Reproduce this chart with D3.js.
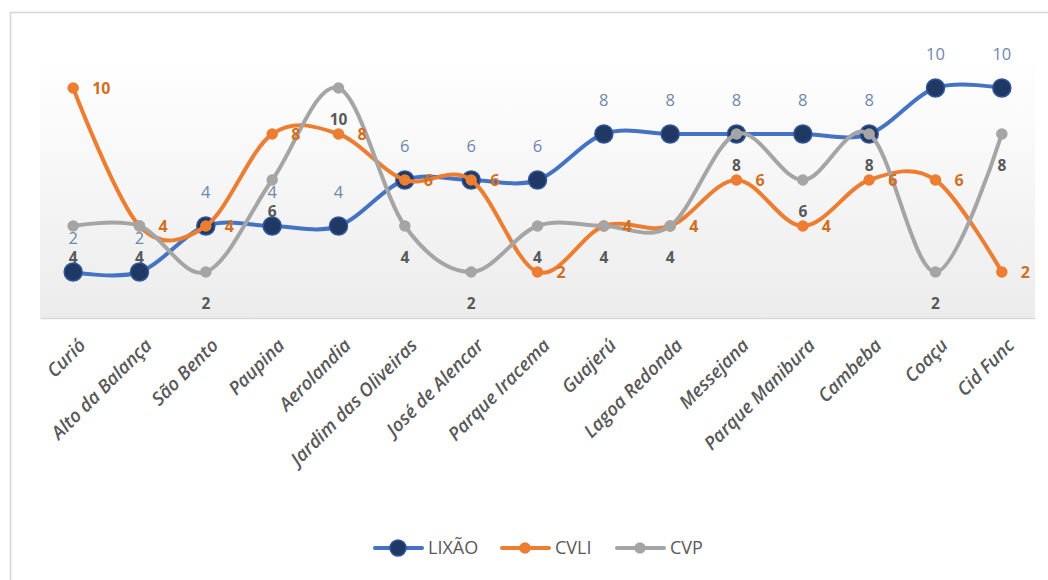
<!DOCTYPE html>
<html>
<head>
<meta charset="utf-8">
<script src="https://cdn.jsdelivr.net/npm/d3@7/dist/d3.min.js"></script>
<style>
  html, body { margin: 0; padding: 0; background: #ffffff; }
  svg { display: block; }
</style>
</head>
<body>
<svg id="chart" width="1048" height="580"></svg>
<script>
// Bairros (eixo X)
const categories = ["Curió", "Alto da Balança", "São Bento", "Paupina", "Aerolandia",
  "Jardim das Oliveiras", "José de Alencar", "Parque Iracema", "Guajerú", "Lagoa Redonda",
  "Messejana", "Parque Manibura", "Cambeba", "Coaçu", "Cid Func"];

// Séries
const lixao = [2, 2, 4, 4, 4, 6, 6, 6, 8, 8, 8, 8, 8, 10, 10];
const cvli  = [10, 4, 4, 8, 8, 6, 6, 2, 4, 4, 6, 4, 6, 6, 2];
const cvp   = [4, 4, 2, 6, 10, 4, 2, 4, 4, 4, 8, 6, 8, 2, 8];

const seriesNames = ["LIXÃO", "CVLI", "CVP"];

const W = 1048, H = 580;
const plot = { left: 40, right: 1035, top: 42, bottom: 318 };

const svg = d3.select("#chart");

// Gradient for plot area background
const defs = svg.append("defs");
const grad = defs.append("linearGradient").attr("id", "plotBg")
  .attr("x1", 0).attr("y1", 0).attr("x2", 0).attr("y2", 1);
grad.append("stop").attr("offset", "0%").attr("stop-color", "#ffffff");
grad.append("stop").attr("offset", "100%").attr("stop-color", "#ececec");

// Chart frame
svg.append("path")
  .attr("d", `M10.5,${H} V12.5 H${W}`)
  .attr("fill", "none").attr("stroke", "#d6d6d6").attr("stroke-width", 1.5);

svg.append("rect")
  .attr("x", plot.left).attr("y", 60)
  .attr("width", plot.right - plot.left).attr("height", plot.bottom - 60)
  .attr("fill", "url(#plotBg)");

const x = d3.scaleBand().domain(categories).range([plot.left, plot.right]);
const cx = d => x(d) + x.bandwidth() / 2;
const y = d3.scaleLinear().domain([0, 12]).range([plot.bottom, plot.top]);

// Category axis
const xAxis = d3.axisBottom(x).tickSize(0).tickPadding(0);
const gx = svg.append("g").attr("transform", `translate(0,${plot.bottom})`).call(xAxis);
gx.select(".domain").attr("stroke", "#d9d9d9").attr("stroke-width", 1.5);
gx.selectAll(".tick text")
  .attr("transform", "translate(9,24) rotate(-45)")
  .attr("text-anchor", "end")
  .attr("dy", "0.35em")
  .attr("fill", "#595959")
  .style("font-family", "'Open Sans', sans-serif")
  .style("font-size", "18.5px")
  .style("font-weight", "600")
  .style("font-style", "italic");

const line = d3.line()
  .x((d, i) => cx(categories[i]))
  .y(d => y(d))
  .curve(d3.curveCardinal.tension(0));

const styles = [
  { data: lixao, stroke: "#4472c4", fill: "#1f3864", r: 9, mstroke: "#2f5597" },
  { data: cvli,  stroke: "#ed7d31", fill: "#ed7d31", r: 5, mstroke: "#ed7d31" },
  { data: cvp,   stroke: "#a5a5a5", fill: "#a5a5a5", r: 5, mstroke: "#a5a5a5" }
];

styles.forEach(s => {
  svg.append("path").datum(s.data)
    .attr("d", line)
    .attr("fill", "none")
    .attr("stroke", s.stroke)
    .attr("stroke-width", 4)
    .attr("stroke-linecap", "round");
  svg.append("g").selectAll("circle").data(s.data).join("circle")
    .attr("cx", (d, i) => cx(categories[i]))
    .attr("cy", d => y(d))
    .attr("r", s.r)
    .attr("fill", s.fill)
    .attr("stroke", s.mstroke)
    .attr("stroke-width", 1.5);
});

// Data labels
const lblFont = "'Open Sans', sans-serif";
svg.append("g").selectAll("text").data(lixao).join("text")
  .attr("x", (d, i) => cx(categories[i]))
  .attr("y", d => y(d) - 34)
  .attr("dy", "0.35em")
  .attr("text-anchor", "middle")
  .attr("fill", "#6f86b0")
  .style("font-family", lblFont).style("font-size", "16.5px")
  .text(d => d);

svg.append("g").selectAll("text").data(cvli).join("text")
  .attr("x", (d, i) => cx(categories[i]) + 19)
  .attr("y", d => y(d))
  .attr("dy", "0.35em")
  .attr("text-anchor", "start")
  .attr("fill", "#d0701f")
  .style("font-family", lblFont).style("font-size", "16px").style("font-weight", "bold")
  .text(d => d);

svg.append("g").selectAll("text").data(cvp).join("text")
  .attr("x", (d, i) => cx(categories[i]))
  .attr("y", d => y(d) + 32)
  .attr("dy", "0.35em")
  .attr("text-anchor", "middle")
  .attr("fill", "#595959")
  .style("font-family", lblFont).style("font-size", "15.5px").style("font-weight", "bold")
  .text(d => d);

// Legend
const legendItems = [
  { name: seriesNames[0], s: styles[0], x0: 375 },
  { name: seriesNames[1], s: styles[1], x0: 502 },
  { name: seriesNames[2], s: styles[2], x0: 617 }
];
const lg = svg.append("g");
legendItems.forEach(it => {
  const ly = 548;
  lg.append("line").attr("x1", it.x0).attr("x2", it.x0 + 47)
    .attr("y1", ly).attr("y2", ly)
    .attr("stroke", it.s.stroke).attr("stroke-width", 4).attr("stroke-linecap", "round");
  lg.append("circle").attr("cx", it.x0 + 23).attr("cy", ly)
    .attr("r", it.s.r === 9 ? 8 : 5)
    .attr("fill", it.s.fill).attr("stroke", it.s.mstroke).attr("stroke-width", 1.5);
  lg.append("text").attr("x", it.x0 + 53).attr("y", ly).attr("dy", "0.35em")
    .attr("fill", "#595959")
    .style("font-family", lblFont).style("font-size", "18px")
    .text(it.name);
});
</script>
</body>
</html>
